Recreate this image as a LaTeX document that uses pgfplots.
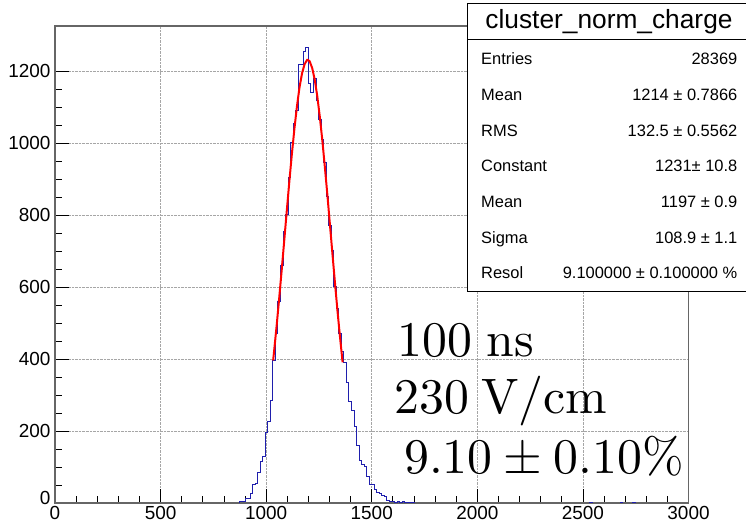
\documentclass[border=0pt]{standalone}
\usepackage{pgfplots}
\pgfplotsset{compat=1.18}
\usepackage{fontspec}
\setmainfont{Liberation Sans}
\newfontfamily\lmr{lmroman10-regular.otf}
\definecolor{histblue}{rgb}{0.12,0.12,0.68}
\begin{document}
\begin{tikzpicture}
\begin{axis}[
  at={(55bp,23bp)}, anchor=south west,
  scale only axis, width=633.5bp, height=477bp,
  xmin=0, xmax=3000, ymin=0, ymax=1325,
  xtick={0,500,...,3000}, ytick={0,200,...,1200},
  minor x tick num=4, minor y tick num=3,
  tick align=inside, tick pos=left,
  major tick length=14bp, minor tick length=7bp,
  every tick/.style={black, line width=0.8bp},
  axis line style={black!60, line width=1.1bp},
  grid=major,
  major grid style={densely dotted, gray!70, line width=0.8bp},
  tick label style={font=\fontsize{19}{19}\selectfont},
  /pgf/number format/assume math mode=true,
  /pgf/number format/1000 sep={},
  yticklabel={\ifdim\tick pt=0pt\raisebox{10bp}{0}\else\pgfmathprintnumber{\tick}\fi},
  yticklabel style={xshift=-1bp},
]
\addplot[const plot mark left, histblue, line width=1bp] coordinates {
(0,0) (876,5) (888,5) (900,13) (912,13) (924,27) (936,50) (948,55) (960,84) (972,115) (984,129) (996,196) (1008,225) (1020,284) (1032,397) (1044,470) (1056,560) (1068,660) (1080,755) (1092,800) (1104,905) (1116,1000) (1128,1055) (1140,1090) (1152,1217) (1164,1217) (1176,1254) (1188,1266) (1200,1166) (1212,1139) (1224,1180) (1236,1119) (1248,1065) (1260,1010) (1272,945) (1284,850) (1296,770) (1308,700) (1320,600) (1332,540) (1344,470) (1356,420) (1368,391) (1380,334) (1392,283) (1404,256) (1416,212) (1428,161) (1440,117) (1452,107) (1464,101) (1476,73) (1488,50) (1500,52) (1512,38) (1524,30) (1536,27) (1548,20) (1560,17) (1572,8) (1584,4) (1596,3) (1608,2) (1620,4) (1632,1) (1644,3) (1656,2) (1668,1) (1680,2) (1692,1) (1704,0) (2532,1) (2544,0) (2676,1) (2688,0) (2736,1) (2748,0) (3000,0)
};
\addplot[red, line width=2bp] coordinates {
(1033,396) (1038,424) (1050,495) (1062,571) (1074,650) (1086,732) (1098,814) (1110,895) (1122,971) (1134,1041) (1146,1103) (1158,1155) (1170,1194) (1182,1219) (1194,1231) (1197,1231) (1206,1227) (1218,1208) (1230,1176) (1242,1130) (1254,1073) (1266,1007) (1278,933) (1290,855) (1302,773) (1314,691) (1326,610) (1338,532) (1350,459) (1362,391)
};
\end{axis}
% stats box
\draw[black, line width=1bp, fill=white] (467.3bp,234.3bp) rectangle (747bp,522bp);
\draw[black, line width=1bp] (467.3bp,486bp) -- (747bp,486bp);
\node[anchor=base, inner sep=0pt, font=\fontsize{26.4}{26.4}\selectfont] at (609bp,497.7bp) {cluster\_norm\_charge};
\begin{scope}[every node/.style={inner sep=0pt, font=\fontsize{16.5}{16.5}\selectfont}]
\node[anchor=base west] at (481bp,461bp) {Entries};
\node[anchor=base east] at (737.5bp,461bp) {28369};
\node[anchor=base west] at (481bp,425.3bp) {Mean};
\node[anchor=base east] at (737.5bp,425.3bp) {1214 ± 0.7866};
\node[anchor=base west] at (481bp,389.6bp) {RMS};
\node[anchor=base east] at (737.5bp,389.6bp) {132.5 ± 0.5562};
\node[anchor=base west] at (481bp,354bp) {Constant};
\node[anchor=base east] at (737.5bp,354bp) {1231± 10.8};
\node[anchor=base west] at (481bp,318.3bp) {Mean};
\node[anchor=base east] at (737.5bp,318.3bp) {1197 ± 0.9};
\node[anchor=base west] at (481bp,282.6bp) {Sigma};
\node[anchor=base east] at (737.5bp,282.6bp) {108.9 ± 1.1};
\node[anchor=base west] at (481bp,247bp) {Resol};
\node[anchor=base east] at (737.5bp,247bp) {9.100000 ± 0.100000 \%};
\end{scope}
% annotations
\begin{scope}[every node/.style={inner sep=0pt, anchor=base west, font=\lmr\fontsize{50}{50}\selectfont}]
\node at (397bp,169.3bp) {100\hspace{0.3em}ns};
\node at (394bp,112.7bp) {230\hspace{0.25em}V/cm};
\node at (404bp,52.7bp) {9.10\hspace{0.22em}±\hspace{0.22em}0.10\%};
\end{scope}
\pgfresetboundingbox
\path[use as bounding box] (0,0) rectangle (746bp,526bp);
\end{tikzpicture}
\end{document}
